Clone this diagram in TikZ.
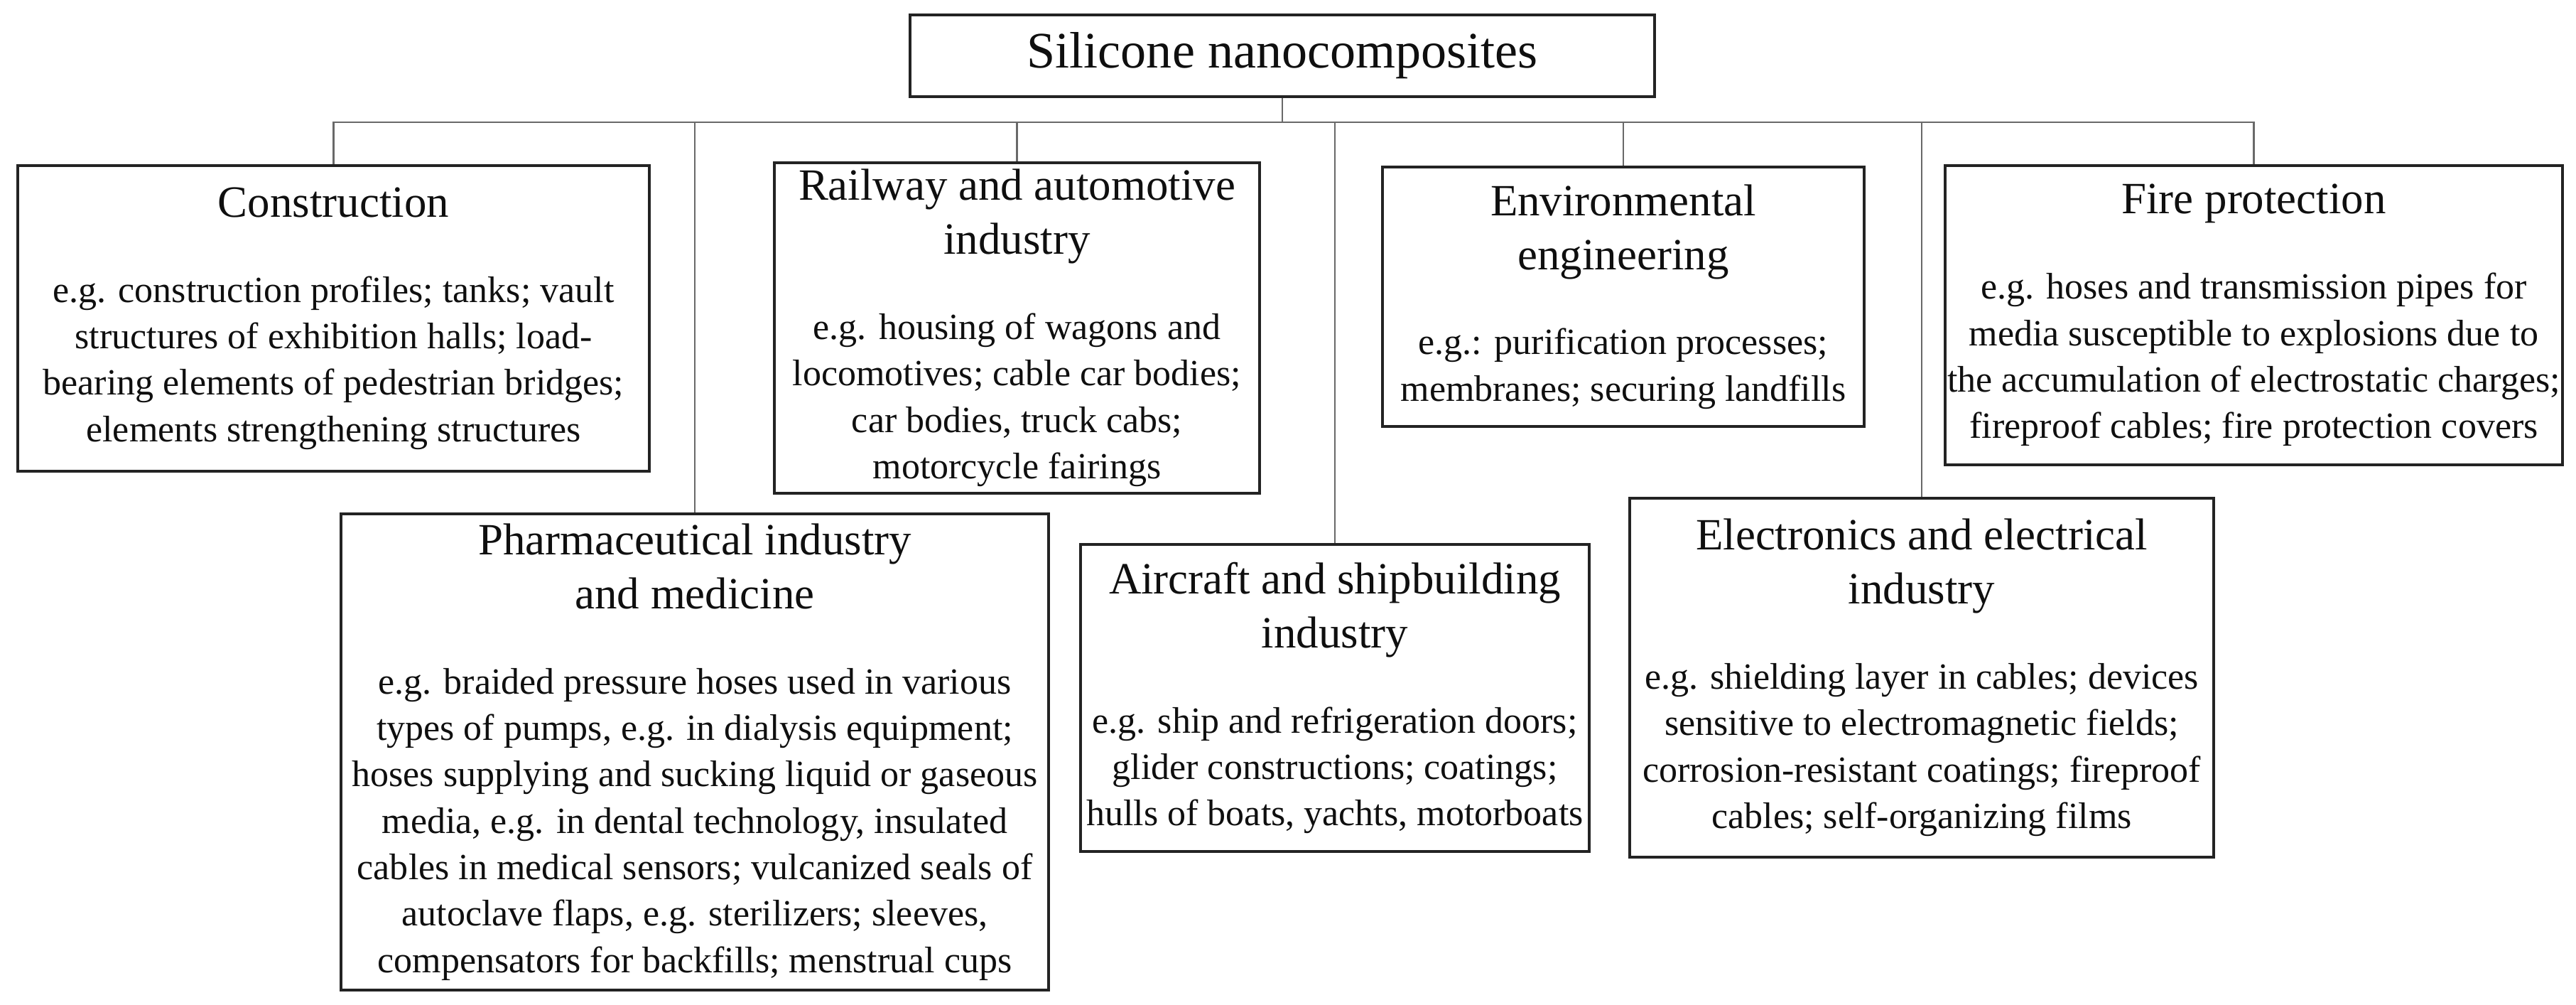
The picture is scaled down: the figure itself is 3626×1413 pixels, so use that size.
\documentclass[tikz,border=0pt]{standalone}
\usepackage{fontspec}
\setmainfont{Liberation Serif}
\usepackage{tikz}
\usetikzlibrary{positioning}
\definecolor{BoxLine}{RGB}{35,35,35}
\definecolor{LinkGray}{RGB}{105,105,105}
\definecolor{TextInk}{RGB}{15,15,15}
\newcommand{\txtbody}{\fontsize{14.8}{18.6}\selectfont}
\newcommand{\txthead}[1]{{\fontsize{17.9}{21.6}\selectfont #1}}

\begin{document}
\begin{tikzpicture}[x=0.1mm,y=-0.1mm,
    appbox/.style={draw=BoxLine,line width=1.1pt,align=center,inner sep=0pt,
      font=\txtbody,text=TextInk},
    link/.style={LinkGray,line width=0.8pt}]
  \useasboundingbox (0,0) rectangle (3626,1413);
  % root
  \node[appbox,minimum width=104.8mm,minimum height=11.5mm,
    font=\fontsize{20.5}{24}\selectfont] (root) at (1805,78.5) {Silicone nanocomposites};
  \coordinate (bus) at (0,172);

  % upper row
  \node[appbox,minimum width=88.9mm,minimum height=43mm] (constr) at (469.5,448)
    {\txthead{Construction}\\[15.5pt]
     e.g. construction profiles; tanks; vault\\
     structures of exhibition halls; load-\\
     bearing elements of pedestrian bridges;\\
     elements strengthening structures};
  \node[appbox,minimum width=68.3mm,minimum height=46.5mm] (rail) at (1431.5,461.5)
    {\txthead{Railway and automotive}\\[3pt]
     \txthead{industry}\\[15.5pt]
     e.g. housing of wagons and\\
     locomotives; cable car bodies;\\
     car bodies, truck cabs;\\
     motorcycle fairings};
  \node[appbox,minimum width=67.8mm,minimum height=36.5mm] (env) at (2285,417.5)
    {\txthead{Environmental}\\[3pt]
     \txthead{engineering}\\[15.5pt]
     e.g.: purification processes;\\
     membranes; securing landfills};
  \node[appbox,minimum width=86.9mm,minimum height=42.1mm] (fire) at (3172.5,443.5)
    {\txthead{Fire protection}\\[15.5pt]
     e.g. hoses and transmission pipes for\\
     media susceptible to explosions due to\\
     the accumulation of electrostatic charges;\\
     fireproof cables; fire protection covers};

  % lower row
  \node[appbox,minimum width=99.6mm,minimum height=67mm] (pharma) at (978,1058)
    {\txthead{Pharmaceutical industry}\\[3pt]
     \txthead{and medicine}\\[15.5pt]
     e.g. braided pressure hoses used in various\\
     types of pumps, e.g. in dialysis equipment;\\
     hoses supplying and sucking liquid or gaseous\\
     media, e.g. in dental technology, insulated\\
     cables in medical sensors; vulcanized seals of\\
     autoclave flaps, e.g. sterilizers; sleeves,\\
     compensators for backfills; menstrual cups};
  \node[appbox,minimum width=71.6mm,minimum height=43.2mm] (air) at (1879,982)
    {\txthead{Aircraft and shipbuilding}\\[3pt]
     \txthead{industry}\\[15.5pt]
     e.g. ship and refrigeration doors;\\
     glider constructions; coatings;\\
     hulls of boats, yachts, motorboats};
  \node[appbox,minimum width=82.2mm,minimum height=50.5mm] (elec) at (2705,953.5)
    {\txthead{Electronics and electrical}\\[3pt]
     \txthead{industry}\\[15.5pt]
     e.g. shielding layer in cables; devices\\
     sensitive to electromagnetic fields;\\
     corrosion-resistant coatings; fireproof\\
     cables; self-organizing films};

  % connectors
  \draw[link] (root.south) -- (root.south |- bus);
  \draw[link] (constr.north) -- (constr.north |- bus) -- (fire.north |- bus) -- (fire.north);
  \foreach \n in {rail,env,pharma,air,elec}
    \draw[link] (\n.north) -- (\n.north |- bus);
\end{tikzpicture}
\end{document}
